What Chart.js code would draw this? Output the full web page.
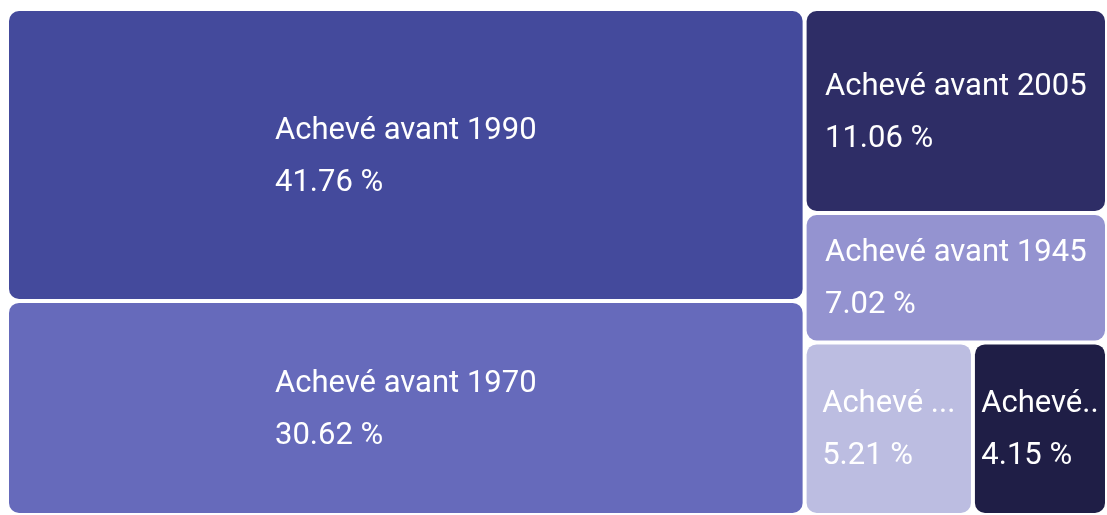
<!DOCTYPE html>
<html>
<head>
<meta charset="utf-8">
<script src="https://cdn.jsdelivr.net/npm/chart.js@4.4.1/dist/chart.umd.min.js"></script>
<style>
  html, body { margin: 0; padding: 0; background: #fff; }
  #wrap { width: 1107px; height: 515px; }
</style>
</head>
<body>
<div id="wrap"><canvas id="treemap"></canvas></div>
<script>
var labels = ['Achevé avant 1990', 'Achevé avant 1970', 'Achevé avant 2005', 'Achevé avant 1945', 'Achevé avant 1919', 'Achevé avant 2016'];
var shares = [41.76, 30.62, 11.06, 7.02, 5.21, 4.15];
var colors = ['#444a9c', '#666abb', '#2e2d66', '#9493d0', '#bcbde1', '#1f1e46'];

// squarified layout (golden ratio, like d3) in the 0..100 data space of both axes
function squarify(values, x0, y0, x1, y1) {
    var ratio = (1 + Math.sqrt(5)) / 2;
    var cells = [];
    var value = values.reduce(function(a, b) { return a + b; }, 0);
    var i0 = 0, i1 = 0, n = values.length;
    while (i0 < n) {
        var dx = x1 - x0, dy = y1 - y0;
        var sum = values[i1++], min = sum, max = sum;
        var alpha = Math.max(dy / dx, dx / dy) / (value * ratio);
        var beta = sum * sum * alpha;
        var minRatio = Math.max(max / beta, beta / min);
        for (; i1 < n; ++i1) {
            var v = values[i1];
            sum += v;
            if (v < min) min = v;
            if (v > max) max = v;
            beta = sum * sum * alpha;
            var r = Math.max(max / beta, beta / min);
            if (r > minRatio) { sum -= v; break; }
            minRatio = r;
        }
        var k, pos;
        if (dx < dy) {
            var yb = i1 < n ? y0 + dy * sum / value : y1;
            pos = x0;
            for (k = i0; k < i1; k++) {
                var w = dx * values[k] / sum;
                cells[k] = { x0: pos, x1: pos + w, y0: y0, y1: yb };
                pos += w;
            }
            y0 = yb;
        } else {
            var xb = i1 < n ? x0 + dx * sum / value : x1;
            pos = y0;
            for (k = i0; k < i1; k++) {
                var h = dy * values[k] / sum;
                cells[k] = { x0: x0, x1: xb, y0: pos, y1: pos + h };
                pos += h;
            }
            x0 = xb;
        }
        value -= sum;
        i0 = i1;
    }
    return cells;
}

// drop words from the end until the label fits, then fall back to the first word
function fitText(ctx, text, maxW) {
    if (ctx.measureText(text).width <= maxW) return text;
    var words = text.split(' ');
    while (words.length > 1) {
        words.pop();
        var t = words.join(' ') + ' ...';
        if (ctx.measureText(t).width <= maxW) return t;
    }
    return words[0] + '..';
}

var treemapCells = {
    id: 'treemapCells',
    beforeDatasetsDraw: function(chart) {
        var ctx = chart.ctx;
        var sx = chart.scales.x, sy = chart.scales.y;
        var rects = squarify(shares, 0, 0, 100, 100);
        var gap = 2;
        rects.forEach(function(r, i) {
            var left = sx.getPixelForValue(r.x0) + gap;
            var right = sx.getPixelForValue(r.x1) - gap;
            var top = sy.getPixelForValue(r.y0) + gap;
            var bottom = sy.getPixelForValue(r.y1) - gap;
            var w = right - left, h = bottom - top;
            ctx.save();
            ctx.beginPath();
            ctx.roundRect(left, top, w, h, 10);
            ctx.fillStyle = colors[i];
            ctx.fill();
            ctx.clip();

            ctx.font = '31px Roboto';
            ctx.fillStyle = '#ffffff';
            ctx.textBaseline = 'middle';
            ctx.textAlign = 'left';
            var title = fitText(ctx, labels[i], w - 10);
            var pct = shares[i].toFixed(2) + ' %';
            var blockW = Math.max(ctx.measureText(title).width, ctx.measureText(pct).width);
            var tx = Math.max(left + 3, left + (w - blockW) / 2);
            var cy = top + h / 2;
            ctx.fillText(title, tx, cy - 24);
            ctx.fillText(pct, tx, cy + 28);
            ctx.restore();
        });
    }
};

new Chart(document.getElementById('treemap'), {
    type: 'scatter',
    data: { datasets: [{ data: [] }] },
    options: {
        responsive: true,
        maintainAspectRatio: false,
        animation: false,
        layout: { padding: { left: 7, top: 9, right: 0, bottom: 0 } },
        scales: {
            x: { type: 'linear', min: 0, max: 100, display: false },
            y: { type: 'linear', min: 0, max: 100, reverse: true, display: false }
        },
        plugins: {
            legend: { display: false },
            tooltip: { enabled: false }
        }
    },
    plugins: [treemapCells]
});
</script>
</body>
</html>
